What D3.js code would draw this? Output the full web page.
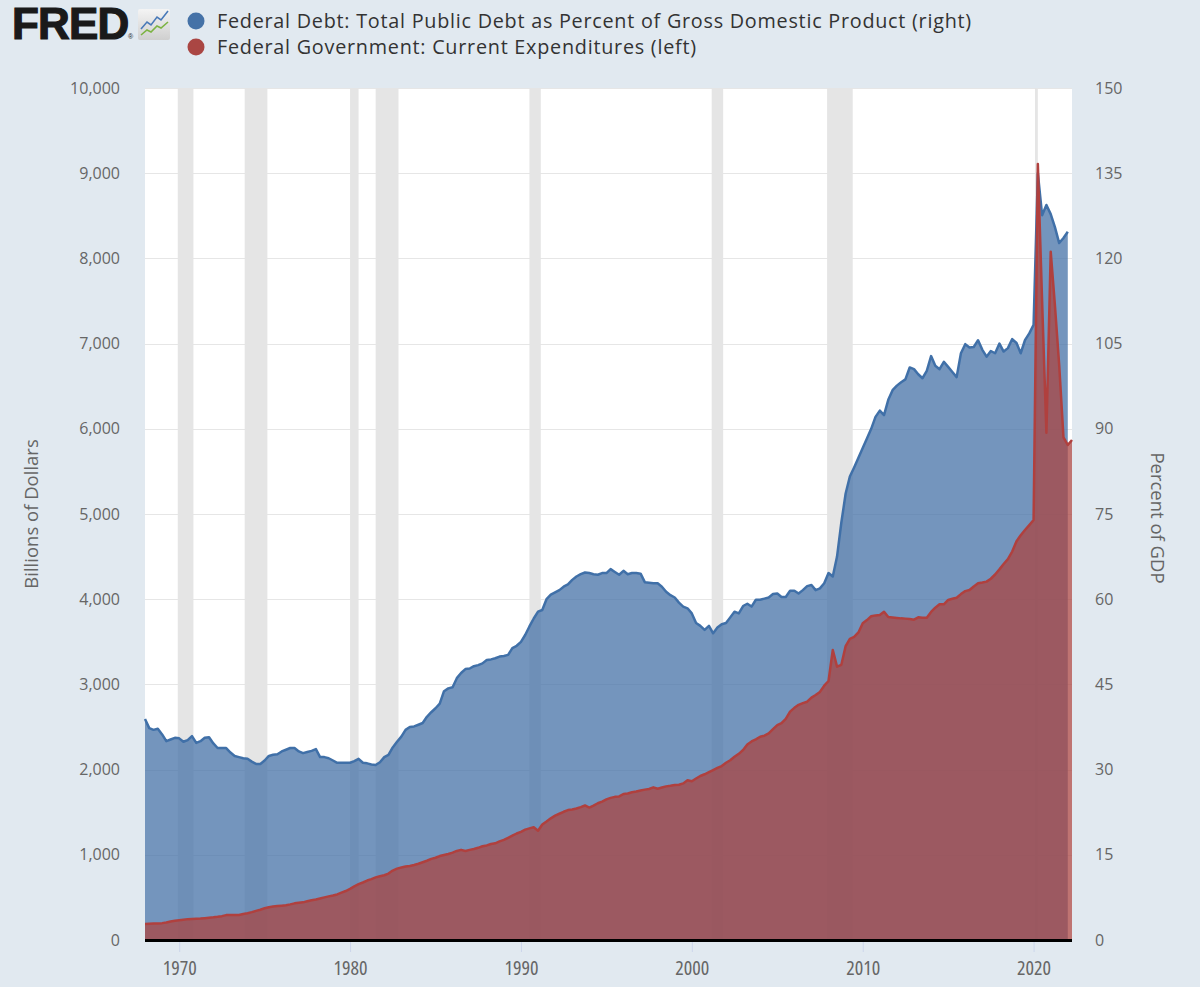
<!DOCTYPE html>
<html>
<head>
<meta charset="utf-8">
<script src="https://cdn.jsdelivr.net/npm/d3@7/dist/d3.min.js"></script>
<style>
  html, body { margin: 0; padding: 0; background: #e1e9f0; }
  svg { display: block; }
  text { font-family: "Open Sans", sans-serif; }
</style>
</head>
<body>
<svg id="chart" width="1200" height="987"></svg>
<script>
// ---------------- DATA ----------------
const startYear = 1968; // first quarter: 1968 Q1, quarterly observations

// Federal Debt: Total Public Debt as Percent of GDP (right axis), 1968Q1 - 2022Q1
const debtPct = [
  38.9, 37.3, 37.0, 37.2,   // 1968
  36.2, 35.0, 35.3, 35.6,   // 1969
  35.5, 34.9, 35.2, 35.9,   // 1970
  34.7, 35.0, 35.6, 35.7,   // 1971
  34.6, 33.8, 33.8, 33.8,   // 1972
  33.0, 32.4, 32.2, 32.0,   // 1973
  31.9, 31.4, 31.0, 31.0,   // 1974
  31.6, 32.4, 32.6, 32.7,   // 1975
  33.2, 33.5, 33.8, 33.8,   // 1976
  33.2, 32.9, 33.1, 33.3,   // 1977
  33.6, 32.2, 32.2, 32.0,   // 1978
  31.6, 31.2, 31.2, 31.2,   // 1979
  31.2, 31.5, 31.9, 31.2,   // 1980
  31.1, 30.9, 30.8, 31.3,   // 1981
  32.2, 32.6, 33.9, 34.9,   // 1982
  35.8, 37.0, 37.5, 37.6,   // 1983
  37.9, 38.2, 39.3, 40.1,   // 1984
  40.8, 41.6, 43.8, 44.3,   // 1985
  44.5, 46.1, 47.0, 47.7,   // 1986
  47.8, 48.2, 48.4, 48.7,   // 1987
  49.3, 49.4, 49.6, 49.9,   // 1988
  50.0, 50.2, 51.4, 51.8,   // 1989
  52.5, 53.7, 55.2, 56.6,   // 1990
  57.8, 58.1, 60.0, 60.8,   // 1991
  61.2, 61.6, 62.2, 62.6,   // 1992
  63.4, 64.0, 64.4, 64.7,   // 1993
  64.6, 64.4, 64.3, 64.6,   // 1994
  64.6, 65.3, 64.8, 64.3,   // 1995
  65.0, 64.4, 64.6, 64.6,   // 1996
  64.5, 63.0, 62.9, 62.8,   // 1997
  62.8, 62.2, 61.3, 60.7,   // 1998
  60.3, 59.4, 58.7, 58.4,   // 1999
  57.5, 55.8, 55.3, 54.6,   // 2000
  55.3, 54.0, 55.0, 55.6,   // 2001
  55.8, 56.8, 57.8, 57.5,   // 2002
  58.8, 59.2, 58.7, 59.9,   // 2003
  59.9, 60.1, 60.3, 60.9,   // 2004
  61.0, 60.4, 60.4, 61.5,   // 2005
  61.5, 61.0, 61.6, 62.3,   // 2006
  62.5, 61.6, 61.9, 62.8,   // 2007
  64.6, 64.0, 67.5, 73.5,   // 2008
  78.6, 81.6, 83.2, 84.9,   // 2009
  86.6, 88.3, 90.0, 92.1,   // 2010
  93.2, 92.4, 95.1, 96.8,   // 2011
  97.6, 98.2, 98.7, 100.8,  // 2012
  100.5, 99.6, 98.9, 100.2, // 2013
  102.8, 101.1, 100.5, 101.8, // 2014
  100.9, 100.0, 99.1, 103.3, // 2015
  104.9, 104.3, 104.4, 105.6, // 2016
  103.9, 102.7, 103.7, 103.3, // 2017
  105.0, 103.6, 104.2, 105.8, // 2018
  105.1, 103.3, 105.6, 106.8, // 2019
  108.3, 135.0, 127.6, 129.4, // 2020
  127.8, 125.5, 122.7, 123.6, // 2021
  124.7                       // 2022
];

// Federal Government: Current Expenditures, billions of dollars (left axis), 1968Q1 - 2022Q2
const expenditures = [
  188, 190, 193, 195,       // 1968
  198, 205, 218, 226,       // 1969
  232, 238, 245, 246,       // 1970
  248, 251, 256, 262,       // 1971
  266, 272, 280, 292,       // 1972
  293, 293, 294, 305,       // 1973
  315, 327, 342, 355,       // 1974
  372, 385, 393, 399,       // 1975
  403, 408, 418, 430,       // 1976
  436, 442, 455, 467,       // 1977
  475, 488, 500, 512,       // 1978
  522, 535, 555, 575,       // 1979
  600, 630, 655, 675,       // 1980
  698, 715, 735, 748,       // 1981
  760, 780, 815, 838,       // 1982
  850, 862, 868, 880,       // 1983
  895, 912, 930, 952,       // 1984
  965, 985, 998, 1010,      // 1985
  1025, 1045, 1058, 1045,   // 1986
  1058, 1068, 1082, 1100,   // 1987
  1110, 1127, 1135, 1158,   // 1988
  1175, 1200, 1225, 1250,   // 1989
  1270, 1295, 1310, 1323,   // 1990
  1283, 1355, 1390, 1428,   // 1991
  1460, 1482, 1505, 1525,   // 1992
  1532, 1544, 1560, 1579,   // 1993
  1555, 1578, 1605, 1625,   // 1994
  1650, 1668, 1680, 1685,   // 1995
  1714, 1720, 1735, 1742,   // 1996
  1755, 1765, 1772, 1792,   // 1997
  1776, 1790, 1803, 1810,   // 1998
  1819, 1822, 1838, 1875,   // 1999
  1863, 1895, 1925, 1945,   // 2000
  1970, 1995, 2020, 2042,   // 2001
  2080, 2110, 2150, 2185,   // 2002
  2230, 2295, 2330, 2355,   // 2003
  2386, 2398, 2425, 2475,   // 2004
  2523, 2545, 2595, 2680,   // 2005
  2725, 2760, 2780, 2797,   // 2006
  2845, 2875, 2912, 2985,   // 2007
  3040, 3404, 3208, 3230,   // 2008
  3450, 3535, 3557, 3610,   // 2009
  3717, 3755, 3800, 3810,   // 2010
  3815, 3853, 3790, 3785,   // 2011
  3780, 3775, 3772, 3768,   // 2012
  3760, 3787, 3783, 3783,   // 2013
  3850, 3900, 3940, 3940,   // 2014
  3991, 4005, 4018, 4060,   // 2015
  4095, 4108, 4150, 4186,   // 2016
  4195, 4206, 4240, 4290,   // 2017
  4350, 4413, 4470, 4560,   // 2018
  4680, 4750, 4812, 4870,   // 2019
  4930, 9108, 7500, 5954,   // 2020
  8079, 7450, 6750, 5900,   // 2021
  5810, 5869                // 2022
];

// NBER recessions (shaded)
const recessions = [
  ["1969-12-01", "1970-11-01"],
  ["1973-11-01", "1975-03-01"],
  ["1980-01-01", "1980-07-01"],
  ["1981-07-01", "1982-11-01"],
  ["1990-07-01", "1991-03-01"],
  ["2001-03-01", "2001-11-01"],
  ["2007-12-01", "2009-06-01"],
  ["2020-02-01", "2020-04-01"]
];

const leftTicks = [0, 1000, 2000, 3000, 4000, 5000, 6000, 7000, 8000, 9000, 10000];
const rightTicks = [0, 15, 30, 45, 60, 75, 90, 105, 120, 135, 150];
const xTickYears = [1970, 1980, 1990, 2000, 2010, 2020];

const seriesNames = [
  "Federal Debt: Total Public Debt as Percent of Gross Domestic Product (right)",
  "Federal Government: Current Expenditures (left)"
];
const seriesColors = ["#4572a7", "#aa4643"];
const leftTitle = "Billions of Dollars";
const rightTitle = "Percent of GDP";

// ---------------- CHART ----------------
const quarterDate = i => new Date(startYear + Math.floor(i / 4), (i % 4) * 3, 1);
const debtData = debtPct.map((v, i) => ({ date: quarterDate(i), value: v }));
const expData = expenditures.map((v, i) => ({ date: quarterDate(i), value: v }));

const svg = d3.select("#chart");
const plot = { left: 145, right: 1072, top: 88, bottom: 940 };

const x = d3.scaleTime()
  .domain([new Date(1968, 0, 1), new Date(2022, 3, 1)])
  .range([plot.left, plot.right]);
const yL = d3.scaleLinear().domain([0, 10000]).range([plot.bottom, plot.top]);
const yR = d3.scaleLinear().domain([0, 150]).range([plot.bottom, plot.top]);

// plot background
svg.append("rect")
  .attr("x", plot.left).attr("y", plot.top)
  .attr("width", plot.right - plot.left).attr("height", plot.bottom - plot.top)
  .attr("fill", "#ffffff");

// grid lines
svg.append("g").selectAll("line").data(leftTicks.slice(1)).join("line")
  .attr("x1", plot.left).attr("x2", plot.right)
  .attr("y1", d => Math.round(yL(d)) + 0.5).attr("y2", d => Math.round(yL(d)) + 0.5)
  .attr("stroke", "#e6e6e6").attr("stroke-width", 1);

// recession bands
svg.append("g").selectAll("rect").data(recessions).join("rect")
  .attr("x", d => x(new Date(d[0])))
  .attr("width", d => x(new Date(d[1])) - x(new Date(d[0])))
  .attr("y", plot.top).attr("height", plot.bottom - plot.top)
  .attr("fill", "#e5e5e5");

// blue area (right axis)
svg.append("path").datum(debtData)
  .attr("fill", "rgba(69,114,167,0.75)")
  .attr("d", d3.area().x(d => x(d.date)).y0(plot.bottom).y1(d => yR(d.value)));
svg.append("path").datum(debtData)
  .attr("fill", "none").attr("stroke", "#4070a8").attr("stroke-width", 2.5)
  .attr("stroke-linejoin", "round")
  .attr("d", d3.line().x(d => x(d.date)).y(d => yR(d.value)));

// red area (left axis)
svg.append("path").datum(expData)
  .attr("fill", "rgba(170,70,67,0.75)")
  .attr("d", d3.area().x(d => x(d.date)).y0(plot.bottom).y1(d => yL(d.value)));
svg.append("path").datum(expData)
  .attr("fill", "none").attr("stroke", "#b0403e").attr("stroke-width", 2.5)
  .attr("stroke-linejoin", "round")
  .attr("d", d3.line().x(d => x(d.date)).y(d => yL(d.value)));

// baseline
svg.append("line")
  .attr("x1", plot.left).attr("x2", plot.right)
  .attr("y1", plot.bottom + 0.5).attr("y2", plot.bottom + 0.5)
  .attr("stroke", "#000").attr("stroke-width", 3);

// axes
const labelColor = "#666666";
const gL = svg.append("g").attr("transform", `translate(${plot.left},0)`)
  .call(d3.axisLeft(yL).tickValues(leftTicks).tickFormat(d3.format(",")).tickSize(0).tickPadding(25));
const gR = svg.append("g").attr("transform", `translate(${plot.right},0)`)
  .call(d3.axisRight(yR).tickValues(rightTicks).tickFormat(d3.format("d")).tickSize(0).tickPadding(23));
const gX = svg.append("g").attr("transform", `translate(0,${plot.bottom + 2})`)
  .call(d3.axisBottom(x).tickValues(xTickYears.map(y => new Date(y, 0, 1)))
    .tickFormat(d3.timeFormat("%Y")).tickSize(10).tickPadding(9));

[gL, gR, gX].forEach(g => {
  g.select(".domain").remove();
  g.selectAll("text").attr("fill", labelColor).style("font-family", "Open Sans").style("font-size", "16px");
});
gX.selectAll("line").attr("stroke", "#ccd6eb");
gX.selectAll("text").style("font-size", "20px").style("font-stretch", "condensed");

// axis titles
svg.append("text")
  .attr("transform", `translate(38,${(plot.top + plot.bottom) / 2}) rotate(-90)`)
  .attr("text-anchor", "middle").attr("fill", labelColor)
  .style("font-size", "18.5px").text(leftTitle);
svg.append("text")
  .attr("transform", `translate(1151,${(plot.top + plot.bottom) / 2 + 4}) rotate(90)`)
  .attr("text-anchor", "middle").attr("fill", labelColor)
  .style("font-size", "18.5px").text(rightTitle);

// FRED logo
const logo = svg.append("g");
logo.append("text").attr("x", 12).attr("y", 39)
  .style("font-family", "Liberation Sans, Arial, sans-serif").style("font-weight", "bold")
  .style("font-size", "44px").style("letter-spacing", "-0.8px")
  .attr("fill", "#1a1a1a").attr("stroke", "#1a1a1a").attr("stroke-width", 1.2).text("FRED");
logo.append("text").attr("x", 128).attr("y", 39)
  .style("font-family", "Liberation Sans, Arial, sans-serif").style("font-size", "7px")
  .attr("fill", "#1a1a1a").text("®");
const grad = svg.append("defs").append("linearGradient").attr("id", "icoGrad")
  .attr("x1", 0).attr("y1", 0).attr("x2", 0).attr("y2", 1);
grad.append("stop").attr("offset", "0%").attr("stop-color", "#f4f4f4");
grad.append("stop").attr("offset", "100%").attr("stop-color", "#cfcfcf");
logo.append("rect").attr("x", 138).attr("y", 9).attr("width", 32).attr("height", 31)
  .attr("rx", 2).attr("fill", "url(#icoGrad)");
logo.append("path").attr("d", "M141,29 L147,22 L151,25 L157,17 L161,20 L168,11")
  .attr("fill", "none").attr("stroke", "#4a7ab8").attr("stroke-width", 1.6);
logo.append("path").attr("d", "M141,35 L147,30 L151,32 L157,26 L161,28 L168,22")
  .attr("fill", "none").attr("stroke", "#7cb342").attr("stroke-width", 1.6);

// legend
const legend = svg.append("g");
seriesNames.forEach((name, i) => {
  const cy = 21 + i * 26;
  legend.append("circle").attr("cx", 196).attr("cy", cy).attr("r", 8.5).attr("fill", seriesColors[i]);
  legend.append("text").attr("x", 217).attr("y", cy + 7)
    .attr("fill", "#333").style("font-size", "19.8px").style("letter-spacing", "0.75px").text(name);
});
</script>
</body>
</html>
